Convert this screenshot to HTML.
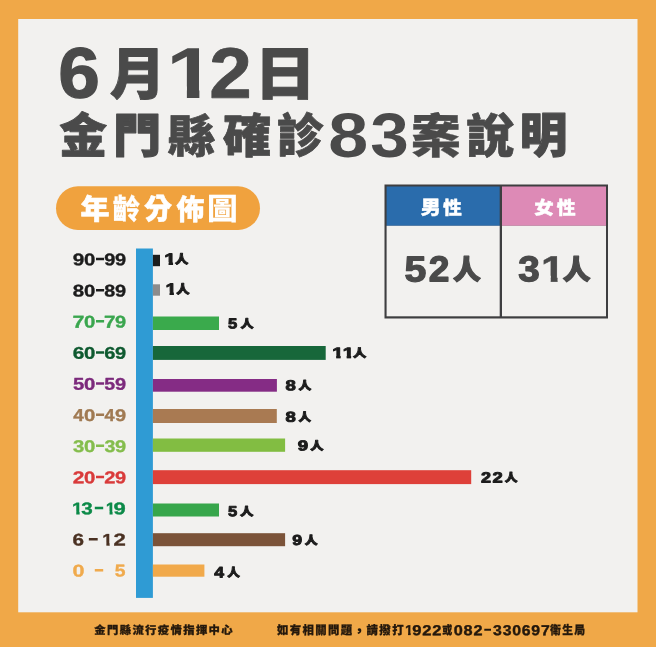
<!DOCTYPE html>
<html lang="zh-Hant">
<head>
<meta charset="utf-8">
<title>6月12日 金門縣確診83案說明</title>
<style>
html,body{margin:0;padding:0;background:#f0a848;}
body{width:656px;height:647px;overflow:hidden;}
svg{display:block;}
text{font-kerning:none;white-space:pre;text-rendering:geometricPrecision;stroke-linejoin:round;}
.k{font-family:"Liberation Sans","Noto Sans CJK TC",sans-serif;font-weight:900;}
.b{font-family:"Liberation Sans","Noto Sans CJK TC",sans-serif;font-weight:700;}
</style>
</head>
<body>
<svg width="656" height="647" viewBox="0 0 656 647">
<defs>
<clipPath id="c0"><path d="M4.66 -50.20H27.18V0.30H16.93V-11.69H4.66Z"/></clipPath>
<clipPath id="c1"><path d="M2.04 -26.10H14.29V0.50H8.48V-6.00H2.04Z"/></clipPath>
<clipPath id="c2"><path d="M0.67 -12.02H6.70V0.47H3.74V-2.71H0.67Z"/></clipPath>
<clipPath id="c3"><path d="M0.67 -12.02H6.70V0.47H3.74V-2.71H0.67Z"/></clipPath>
<clipPath id="c4"><path d="M0.67 -12.02H6.70V0.47H3.74V-2.71H0.67Z"/></clipPath>
<clipPath id="c5"><path d="M0.34 -11.75H6.68V0.75H3.28V-2.58H0.34Z"/></clipPath>
<clipPath id="c6"><path d="M0.34 -11.75H6.68V0.75H3.28V-2.58H0.34Z"/></clipPath>
<clipPath id="c7"><path d="M0.27 -11.05H6.30V0.75H3.04V-2.41H0.27Z"/></clipPath>
<clipPath id="c8"><path d="M0.27 -11.05H6.30V0.75H3.04V-2.41H0.27Z"/></clipPath>
<clipPath id="c9"><path d="M0.47 -10.30H5.78V0.50H3.12V-2.30H0.47Z"/></clipPath>
</defs>
<rect x="0" y="0" width="656.00" height="647.00" fill="#f0a848"/>
<rect x="18.2" y="19" width="619.30" height="593.30" fill="#f2f1ef"/>
<text class="k" transform="translate(58.29 97.60) rotate(0.05) scale(1.0442 1)" font-size="71.61" fill="#4a4a4a" stroke="#4a4a4a" stroke-width="1.20">6</text>
<text class="k" transform="translate(109.80 94.19) rotate(0.05) scale(0.9855 1)" font-size="56.40" fill="#4a4a4a" stroke="#4a4a4a" stroke-width="0.90">月</text>
<text class="k" transform="translate(166.26 98.10) rotate(0.05) scale(1.2180 1)" font-size="72.53" fill="#4a4a4a" clip-path="url(#c0)">1</text>
<text class="k" transform="translate(209.18 97.70) rotate(0.05) scale(1.0680 1)" font-size="71.47" fill="#4a4a4a" stroke="#4a4a4a" stroke-width="0.80">2</text>
<text class="k" transform="translate(254.16 94.74) rotate(0.05) scale(1.0672 1)" font-size="57.94" fill="#4a4a4a" stroke="#4a4a4a" stroke-width="0.90">日</text>
<text class="k" transform="translate(59.13 152.77) rotate(0.05) scale(0.9994 1)" font-size="47.78" fill="#4a4a4a" stroke="#4a4a4a" stroke-width="0.90">金</text>
<text class="k" transform="translate(113.18 152.39) rotate(0.05) scale(1.0165 1)" font-size="46.94" fill="#4a4a4a" stroke="#4a4a4a" stroke-width="1.30">門</text>
<text class="k" transform="translate(167.84 153.03) rotate(0.05) scale(1.0391 1)" font-size="45.78" fill="#4a4a4a" stroke="#4a4a4a" stroke-width="0.70">縣</text>
<text class="k" transform="translate(223.02 152.64) rotate(0.05) scale(1.0318 1)" font-size="47.02" fill="#4a4a4a" stroke="#4a4a4a" stroke-width="0.70">確</text>
<text class="k" transform="translate(276.96 152.38) rotate(0.05) scale(0.9855 1)" font-size="47.08" fill="#4a4a4a" stroke="#4a4a4a" stroke-width="0.80">診</text>
<text class="k" transform="translate(328.32 156.79) rotate(0.05) scale(1.1435 1)" font-size="62.71" fill="#4a4a4a">8</text>
<text class="k" transform="translate(370.21 156.70) rotate(0.05) scale(1.1058 1)" font-size="62.58" fill="#4a4a4a">3</text>
<text class="k" transform="translate(410.94 152.99) rotate(0.05) scale(1.0400 1)" font-size="47.86" fill="#4a4a4a" stroke="#4a4a4a" stroke-width="0.35">案</text>
<text class="k" transform="translate(466.31 152.76) rotate(0.05) scale(1.0047 1)" font-size="47.49" fill="#4a4a4a" stroke="#4a4a4a" stroke-width="0.70">說</text>
<text class="k" transform="translate(519.74 152.43) rotate(0.05) scale(0.9873 1)" font-size="48.20" fill="#4a4a4a" stroke="#4a4a4a" stroke-width="1.20">明</text>
<rect x="56" y="186.3" width="204" height="43.7" rx="21.85" fill="#f0a23e"/>
<text class="k" transform="translate(80.44 219.30) rotate(0.05) scale(1.0209 1)" font-size="28.41" fill="#ffffff" stroke="#ffffff" stroke-width="0.60">年</text>
<text class="k" transform="translate(112.79 219.28) rotate(0.05) scale(0.9550 1)" font-size="28.64" fill="#ffffff" stroke="#ffffff" stroke-width="0.15">齡</text>
<text class="k" transform="translate(144.34 219.04) rotate(0.05) scale(0.9630 1)" font-size="28.74" fill="#ffffff" stroke="#ffffff" stroke-width="0.60">分</text>
<text class="k" transform="translate(176.56 219.38) rotate(0.05) scale(0.9786 1)" font-size="28.59" fill="#ffffff" stroke="#ffffff" stroke-width="0.40">佈</text>
<text class="k" transform="translate(206.97 219.44) rotate(0.05) scale(1.0196 1)" font-size="30.11" fill="#ffffff">圖</text>
<rect x="384.5" y="184.5" width="223.50" height="134.00" fill="#3e3e40"/>
<rect x="386.6" y="186.5" width="113.10" height="39.30" fill="#2a6cac"/>
<rect x="502.0" y="186.5" width="104.00" height="39.30" fill="#dd8ab6"/>
<rect x="386.6" y="225.8" width="113.10" height="90.50" fill="#f2f1ef"/>
<rect x="502.0" y="225.8" width="104.00" height="90.50" fill="#f2f1ef"/>
<text class="k" transform="translate(420.71 214.20) rotate(0.05) scale(1.0441 1)" font-size="19.18" fill="#ffffff" stroke="#ffffff" stroke-width="0.40">男</text>
<text class="k" transform="translate(442.94 214.27) rotate(0.05) scale(1.0314 1)" font-size="18.21" fill="#ffffff" stroke="#ffffff" stroke-width="0.40">性</text>
<text class="k" transform="translate(534.13 214.24) rotate(0.05) scale(1.0773 1)" font-size="18.10" fill="#ffffff" stroke="#ffffff" stroke-width="0.40">女</text>
<text class="k" transform="translate(556.84 214.27) rotate(0.05) scale(1.0370 1)" font-size="18.21" fill="#ffffff" stroke="#ffffff" stroke-width="0.40">性</text>
<text class="k" transform="translate(404.40 281.40) rotate(0.05) scale(1.0886 1)" font-size="35.97" fill="#4a4a4a" stroke="#4a4a4a" stroke-width="1.30">5</text>
<text class="k" transform="translate(428.79 281.35) rotate(0.05) scale(1.0357 1)" font-size="35.80" fill="#4a4a4a" stroke="#4a4a4a" stroke-width="1.30">2</text>
<text class="k" transform="translate(453.01 279.21) rotate(0.05) scale(1.0281 1)" font-size="26.98" fill="#4a4a4a" stroke="#4a4a4a" stroke-width="1.30">人</text>
<text class="k" transform="translate(518.21 281.35) rotate(0.05) scale(1.0788 1)" font-size="35.80" fill="#4a4a4a" stroke="#4a4a4a" stroke-width="1.30">3</text>
<text class="k" transform="translate(540.86 281.80) rotate(0.05) scale(1.1677 1)" font-size="37.21" fill="#4a4a4a" stroke="#4a4a4a" stroke-width="0.40" clip-path="url(#c1)">1</text>
<text class="k" transform="translate(562.71 279.21) rotate(0.05) scale(1.0281 1)" font-size="26.98" fill="#4a4a4a" stroke="#4a4a4a" stroke-width="1.30">人</text>
<rect x="136" y="248.5" width="16.90" height="349.40" fill="#2f9bd4"/>
<rect x="152.9" y="254.8" width="7.10" height="11.40" fill="#1d1d1d"/>
<rect x="152.9" y="284.3" width="7.10" height="11.40" fill="#8c8c8c"/>
<rect x="152.9" y="316.5" width="66.10" height="13.50" fill="#3aaa4c"/>
<rect x="152.9" y="346.0" width="172.80" height="13.90" fill="#17673a"/>
<rect x="152.9" y="379.0" width="124.00" height="12.70" fill="#852c85"/>
<rect x="152.9" y="409.0" width="123.90" height="14.00" fill="#a97a52"/>
<rect x="152.9" y="438.5" width="132.20" height="13.30" fill="#82bd42"/>
<rect x="152.9" y="470.2" width="318.30" height="13.90" fill="#de4039"/>
<rect x="152.9" y="503.5" width="66.10" height="13.00" fill="#37a64b"/>
<rect x="152.9" y="533.2" width="132.20" height="13.00" fill="#7b5339"/>
<rect x="152.9" y="564.5" width="51.50" height="12.20" fill="#f1a94a"/>
<text class="k" transform="translate(72.79 265.36) rotate(0.05) scale(1.2316 1)" font-size="16.88" fill="#1c1c1c" stroke="#1c1c1c" stroke-width="0.35">9</text>
<text class="k" transform="translate(83.91 265.36) rotate(0.05) scale(1.2057 1)" font-size="16.88" fill="#1c1c1c" stroke="#1c1c1c" stroke-width="0.35">0</text>
<text class="k" transform="translate(94.65 264.06) rotate(0.05) scale(1.6525 1)" font-size="19.30" fill="#1c1c1c">-</text>
<text class="k" transform="translate(104.21 265.36) rotate(0.05) scale(1.1847 1)" font-size="16.88" fill="#1c1c1c" stroke="#1c1c1c" stroke-width="0.35">9</text>
<text class="k" transform="translate(114.91 265.36) rotate(0.05) scale(1.1847 1)" font-size="16.88" fill="#1c1c1c" stroke="#1c1c1c" stroke-width="0.35">9</text>
<text class="k" transform="translate(72.86 296.48) rotate(0.05) scale(1.2094 1)" font-size="16.88" fill="#1c1c1c" stroke="#1c1c1c" stroke-width="0.35">8</text>
<text class="k" transform="translate(83.91 296.48) rotate(0.05) scale(1.2057 1)" font-size="16.88" fill="#1c1c1c" stroke="#1c1c1c" stroke-width="0.35">0</text>
<text class="k" transform="translate(94.65 295.18) rotate(0.05) scale(1.6525 1)" font-size="19.30" fill="#1c1c1c">-</text>
<text class="k" transform="translate(104.28 296.48) rotate(0.05) scale(1.1633 1)" font-size="16.88" fill="#1c1c1c" stroke="#1c1c1c" stroke-width="0.35">8</text>
<text class="k" transform="translate(114.91 296.48) rotate(0.05) scale(1.1847 1)" font-size="16.88" fill="#1c1c1c" stroke="#1c1c1c" stroke-width="0.35">9</text>
<text class="k" transform="translate(72.59 327.76) rotate(0.05) scale(1.2352 1)" font-size="17.37" fill="#3aa64e" stroke="#3aa64e" stroke-width="0.35">7</text>
<text class="k" transform="translate(83.91 327.60) rotate(0.05) scale(1.2057 1)" font-size="16.88" fill="#3aa64e" stroke="#3aa64e" stroke-width="0.35">0</text>
<text class="k" transform="translate(94.65 326.30) rotate(0.05) scale(1.6525 1)" font-size="19.30" fill="#3aa64e">-</text>
<text class="k" transform="translate(104.02 327.76) rotate(0.05) scale(1.1882 1)" font-size="17.37" fill="#3aa64e" stroke="#3aa64e" stroke-width="0.35">7</text>
<text class="k" transform="translate(114.91 327.60) rotate(0.05) scale(1.1847 1)" font-size="16.88" fill="#3aa64e" stroke="#3aa64e" stroke-width="0.35">9</text>
<text class="k" transform="translate(72.75 358.72) rotate(0.05) scale(1.2340 1)" font-size="16.88" fill="#0f5a30" stroke="#0f5a30" stroke-width="0.35">6</text>
<text class="k" transform="translate(83.91 358.72) rotate(0.05) scale(1.2057 1)" font-size="16.88" fill="#0f5a30" stroke="#0f5a30" stroke-width="0.35">0</text>
<text class="k" transform="translate(94.65 357.42) rotate(0.05) scale(1.6525 1)" font-size="19.30" fill="#0f5a30">-</text>
<text class="k" transform="translate(104.17 358.72) rotate(0.05) scale(1.1870 1)" font-size="16.88" fill="#0f5a30" stroke="#0f5a30" stroke-width="0.35">6</text>
<text class="k" transform="translate(114.91 358.72) rotate(0.05) scale(1.1847 1)" font-size="16.88" fill="#0f5a30" stroke="#0f5a30" stroke-width="0.35">9</text>
<text class="k" transform="translate(72.88 389.84) rotate(0.05) scale(1.1836 1)" font-size="17.13" fill="#7c2a7c" stroke="#7c2a7c" stroke-width="0.35">5</text>
<text class="k" transform="translate(83.91 389.84) rotate(0.05) scale(1.2057 1)" font-size="16.88" fill="#7c2a7c" stroke="#7c2a7c" stroke-width="0.35">0</text>
<text class="k" transform="translate(94.65 388.54) rotate(0.05) scale(1.6525 1)" font-size="19.30" fill="#7c2a7c">-</text>
<text class="k" transform="translate(104.30 389.84) rotate(0.05) scale(1.1385 1)" font-size="17.13" fill="#7c2a7c" stroke="#7c2a7c" stroke-width="0.35">5</text>
<text class="k" transform="translate(114.91 389.84) rotate(0.05) scale(1.1847 1)" font-size="16.88" fill="#7c2a7c" stroke="#7c2a7c" stroke-width="0.35">9</text>
<text class="k" transform="translate(73.20 421.12) rotate(0.05) scale(1.0876 1)" font-size="17.37" fill="#a07a52" stroke="#a07a52" stroke-width="0.35">4</text>
<text class="k" transform="translate(83.91 420.96) rotate(0.05) scale(1.2057 1)" font-size="16.88" fill="#a07a52" stroke="#a07a52" stroke-width="0.35">0</text>
<text class="k" transform="translate(94.65 419.66) rotate(0.05) scale(1.6525 1)" font-size="19.30" fill="#a07a52">-</text>
<text class="k" transform="translate(104.61 421.12) rotate(0.05) scale(1.0462 1)" font-size="17.37" fill="#a07a52" stroke="#a07a52" stroke-width="0.35">4</text>
<text class="k" transform="translate(114.91 420.96) rotate(0.05) scale(1.1847 1)" font-size="16.88" fill="#a07a52" stroke="#a07a52" stroke-width="0.35">9</text>
<text class="k" transform="translate(73.05 452.06) rotate(0.05) scale(1.2038 1)" font-size="16.84" fill="#84bd4c" stroke="#84bd4c" stroke-width="0.35">3</text>
<text class="k" transform="translate(83.91 452.08) rotate(0.05) scale(1.2057 1)" font-size="16.88" fill="#84bd4c" stroke="#84bd4c" stroke-width="0.35">0</text>
<text class="k" transform="translate(94.65 450.78) rotate(0.05) scale(1.6525 1)" font-size="19.30" fill="#84bd4c">-</text>
<text class="k" transform="translate(104.46 452.06) rotate(0.05) scale(1.1579 1)" font-size="16.84" fill="#84bd4c" stroke="#84bd4c" stroke-width="0.35">3</text>
<text class="k" transform="translate(114.91 452.08) rotate(0.05) scale(1.1847 1)" font-size="16.88" fill="#84bd4c" stroke="#84bd4c" stroke-width="0.35">9</text>
<text class="k" transform="translate(72.79 483.37) rotate(0.05) scale(1.2224 1)" font-size="17.11" fill="#d93a3a" stroke="#d93a3a" stroke-width="0.35">2</text>
<text class="k" transform="translate(83.91 483.20) rotate(0.05) scale(1.2057 1)" font-size="16.88" fill="#d93a3a" stroke="#d93a3a" stroke-width="0.35">0</text>
<text class="k" transform="translate(94.65 481.90) rotate(0.05) scale(1.6525 1)" font-size="19.30" fill="#d93a3a">-</text>
<text class="k" transform="translate(104.21 483.37) rotate(0.05) scale(1.1758 1)" font-size="17.11" fill="#d93a3a" stroke="#d93a3a" stroke-width="0.35">2</text>
<text class="k" transform="translate(114.91 483.20) rotate(0.05) scale(1.1847 1)" font-size="16.88" fill="#d93a3a" stroke="#d93a3a" stroke-width="0.35">9</text>
<text class="k" transform="translate(71.99 514.28) rotate(0.05) scale(1.1430 1)" font-size="16.79" fill="#0c8a48" stroke="#0c8a48" stroke-width="0.35" clip-path="url(#c2)">1</text>
<text class="k" transform="translate(81.14 514.30) rotate(0.05) scale(1.2267 1)" font-size="16.84" fill="#0c8a48" stroke="#0c8a48" stroke-width="0.35">3</text>
<text class="k" transform="translate(93.61 513.02) rotate(0.05) scale(1.7137 1)" font-size="19.30" fill="#0c8a48">-</text>
<text class="k" transform="translate(105.70 514.28) rotate(0.05) scale(1.0324 1)" font-size="16.79" fill="#0c8a48" stroke="#0c8a48" stroke-width="0.35" clip-path="url(#c3)">1</text>
<text class="k" transform="translate(113.47 514.32) rotate(0.05) scale(1.3020 1)" font-size="16.88" fill="#0c8a48" stroke="#0c8a48" stroke-width="0.35">9</text>
<text class="k" transform="translate(72.56 545.44) rotate(0.05) scale(1.2222 1)" font-size="16.88" fill="#4a3122" stroke="#4a3122" stroke-width="0.35">6</text>
<text class="k" transform="translate(87.55 544.14) rotate(0.05) scale(1.7953 1)" font-size="19.30" fill="#4a3122">-</text>
<text class="k" transform="translate(102.22 545.40) rotate(0.05) scale(1.1062 1)" font-size="16.79" fill="#4a3122" stroke="#4a3122" stroke-width="0.35" clip-path="url(#c4)">1</text>
<text class="k" transform="translate(113.46 545.61) rotate(0.05) scale(1.2923 1)" font-size="17.11" fill="#4a3122" stroke="#4a3122" stroke-width="0.35">2</text>
<text class="k" transform="translate(72.47 576.56) rotate(0.05) scale(1.2773 1)" font-size="16.88" fill="#f0aa4c" stroke="#f0aa4c" stroke-width="0.35">0</text>
<text class="k" transform="translate(93.61 575.26) rotate(0.05) scale(1.7137 1)" font-size="19.30" fill="#f0aa4c">-</text>
<text class="k" transform="translate(114.70 576.56) rotate(0.05) scale(1.1272 1)" font-size="17.13" fill="#f0aa4c" stroke="#f0aa4c" stroke-width="0.35">5</text>
<text class="k" transform="translate(164.36 264.55) rotate(0.05) scale(1.3083 1)" font-size="15.99" fill="#1c1c1c" stroke="#1c1c1c" stroke-width="0.90" clip-path="url(#c5)">1</text>
<text class="k" transform="translate(175.03 263.52) rotate(0.05) scale(1.1127 1)" font-size="12.01" fill="#1c1c1c" stroke="#1c1c1c" stroke-width="0.90">人</text>
<text class="k" transform="translate(165.49 294.45) rotate(0.05) scale(1.2560 1)" font-size="15.99" fill="#1c1c1c" stroke="#1c1c1c" stroke-width="0.90" clip-path="url(#c6)">1</text>
<text class="k" transform="translate(176.13 293.42) rotate(0.05) scale(1.1127 1)" font-size="12.01" fill="#1c1c1c" stroke="#1c1c1c" stroke-width="0.90">人</text>
<text class="k" transform="translate(228.00 328.51) rotate(0.05) scale(1.1378 1)" font-size="14.62" fill="#1c1c1c" stroke="#1c1c1c" stroke-width="0.90">5</text>
<text class="k" transform="translate(240.47 327.70) rotate(0.05) scale(1.1731 1)" font-size="11.17" fill="#1c1c1c" stroke="#1c1c1c" stroke-width="0.90">人</text>
<text class="k" transform="translate(332.13 358.05) rotate(0.05) scale(1.3456 1)" font-size="14.97" fill="#1c1c1c" stroke="#1c1c1c" stroke-width="0.90" clip-path="url(#c7)">1</text>
<text class="k" transform="translate(342.63 358.05) rotate(0.05) scale(1.3456 1)" font-size="14.97" fill="#1c1c1c" stroke="#1c1c1c" stroke-width="0.90" clip-path="url(#c8)">1</text>
<text class="k" transform="translate(352.96 357.09) rotate(0.05) scale(1.1799 1)" font-size="11.28" fill="#1c1c1c" stroke="#1c1c1c" stroke-width="0.90">人</text>
<text class="k" transform="translate(285.59 390.31) rotate(0.05) scale(1.2856 1)" font-size="14.41" fill="#1c1c1c" stroke="#1c1c1c" stroke-width="0.90">8</text>
<text class="k" transform="translate(298.56 389.50) rotate(0.05) scale(1.1474 1)" font-size="11.17" fill="#1c1c1c" stroke="#1c1c1c" stroke-width="0.90">人</text>
<text class="k" transform="translate(285.59 421.71) rotate(0.05) scale(1.2856 1)" font-size="14.41" fill="#1c1c1c" stroke="#1c1c1c" stroke-width="0.90">8</text>
<text class="k" transform="translate(298.55 420.90) rotate(0.05) scale(1.1217 1)" font-size="11.17" fill="#1c1c1c" stroke="#1c1c1c" stroke-width="0.90">人</text>
<text class="k" transform="translate(297.73 450.51) rotate(0.05) scale(1.2836 1)" font-size="14.55" fill="#1c1c1c" stroke="#1c1c1c" stroke-width="0.90">9</text>
<text class="k" transform="translate(310.26 449.69) rotate(0.05) scale(1.1799 1)" font-size="11.28" fill="#1c1c1c" stroke="#1c1c1c" stroke-width="0.90">人</text>
<text class="k" transform="translate(481.12 482.55) rotate(0.05) scale(1.2247 1)" font-size="14.75" fill="#1c1c1c" stroke="#1c1c1c" stroke-width="0.90">2</text>
<text class="k" transform="translate(492.62 482.55) rotate(0.05) scale(1.2497 1)" font-size="14.75" fill="#1c1c1c" stroke="#1c1c1c" stroke-width="0.90">2</text>
<text class="k" transform="translate(504.66 481.59) rotate(0.05) scale(1.1375 1)" font-size="11.28" fill="#1c1c1c" stroke="#1c1c1c" stroke-width="0.90">人</text>
<text class="k" transform="translate(228.00 516.31) rotate(0.05) scale(1.1378 1)" font-size="14.62" fill="#1c1c1c" stroke="#1c1c1c" stroke-width="0.90">5</text>
<text class="k" transform="translate(240.07 515.50) rotate(0.05) scale(1.2073 1)" font-size="11.17" fill="#1c1c1c" stroke="#1c1c1c" stroke-width="0.90">人</text>
<text class="k" transform="translate(292.33 545.11) rotate(0.05) scale(1.2206 1)" font-size="14.55" fill="#1c1c1c" stroke="#1c1c1c" stroke-width="0.90">9</text>
<text class="k" transform="translate(304.76 544.29) rotate(0.05) scale(1.1460 1)" font-size="11.28" fill="#1c1c1c" stroke="#1c1c1c" stroke-width="0.90">人</text>
<text class="k" transform="translate(214.35 577.45) rotate(0.05) scale(1.1570 1)" font-size="15.26" fill="#1c1c1c" stroke="#1c1c1c" stroke-width="0.90">4</text>
<text class="k" transform="translate(227.24 576.47) rotate(0.05) scale(1.1015 1)" font-size="11.49" fill="#1c1c1c" stroke="#1c1c1c" stroke-width="0.90">人</text>
<text class="k" transform="translate(94.28 634.00) rotate(0.05) scale(1.0222 1)" font-size="11.10" fill="#24180c" letter-spacing="1.332" stroke="#24180c" stroke-width="0.30">金門縣流行疫情指揮中心</text>
<text class="k" transform="translate(277.03 634.22) rotate(0.05) scale(0.9593 1)" font-size="11.88" fill="#24180c" letter-spacing="1.425" stroke="#24180c" stroke-width="0.30">如有相關問題</text>
<text class="k" transform="translate(351.85 636.06) rotate(0.05) scale(1.0736 1)" font-size="14.21" fill="#24180c">，</text>
<text class="k" transform="translate(366.58 634.23) rotate(0.05) scale(0.9583 1)" font-size="11.91" fill="#24180c" letter-spacing="1.429" stroke="#24180c" stroke-width="0.30">請撥打</text>
<text class="k" transform="translate(404.93 635.10) rotate(0.05) scale(0.9989 1)" font-size="14.24" fill="#24180c" stroke="#24180c" stroke-width="0.40" clip-path="url(#c9)">1</text>
<text class="k" transform="translate(412.25 635.16) rotate(0.05) scale(1.1382 1)" font-size="14.55" fill="#24180c" letter-spacing="0.727" stroke="#24180c" stroke-width="0.40">922</text>
<text class="k" transform="translate(442.21 634.19) rotate(0.05) scale(0.8479 1)" font-size="11.79" fill="#24180c" stroke="#24180c" stroke-width="0.30">或</text>
<text class="k" transform="translate(453.68 635.16) rotate(0.05) scale(1.1174 1)" font-size="14.55" fill="#24180c" letter-spacing="0.727" stroke="#24180c" stroke-width="0.40">082</text>
<text class="k" transform="translate(483.37 634.05) rotate(0.05) scale(1.5719 1)" font-size="16.79" fill="#24180c">-</text>
<text class="k" transform="translate(493.06 635.14) rotate(0.05) scale(1.0873 1)" font-size="14.52" fill="#24180c" letter-spacing="0.726" stroke="#24180c" stroke-width="0.40">330697</text>
<text class="k" transform="translate(550.05 634.30) rotate(0.05) scale(0.9043 1)" font-size="11.97" fill="#24180c" letter-spacing="1.437" stroke="#24180c" stroke-width="0.30">衛生局</text>
</svg>
</body>
</html>
